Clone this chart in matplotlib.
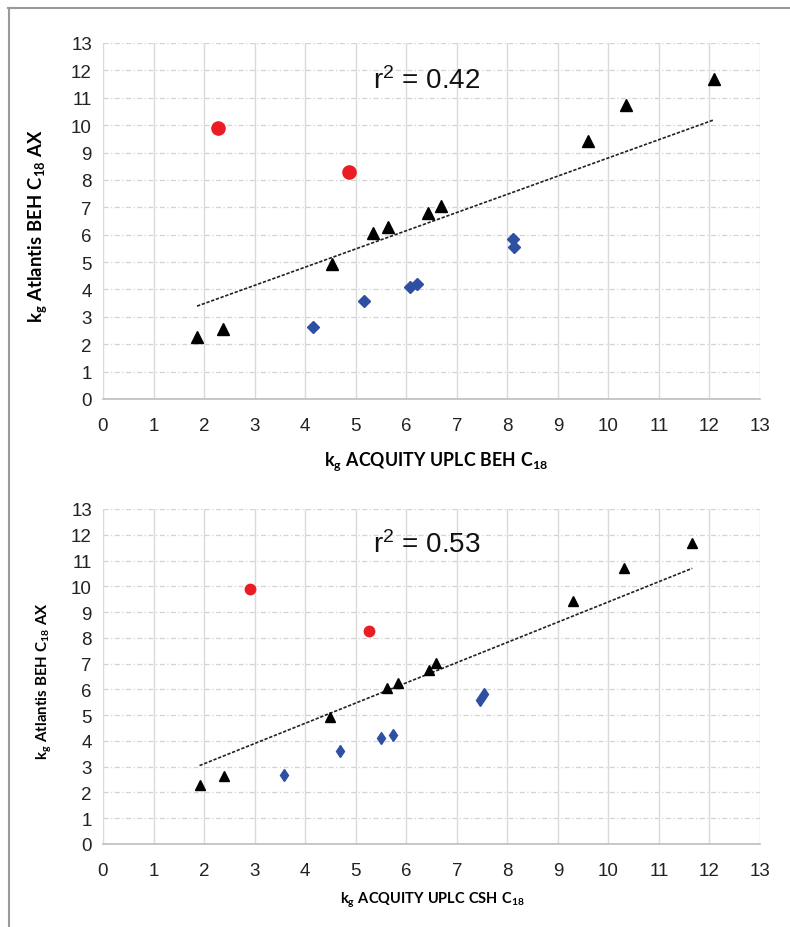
import numpy as np
import matplotlib
matplotlib.use("Agg")
import matplotlib.pyplot as plt
from matplotlib.lines import Line2D

plt.rcParams['font.family'] = ['Liberation Sans', 'DejaVu Sans']
plt.rcParams['mathtext.fontset'] = 'custom'
plt.rcParams['mathtext.rm'] = 'Lato:bold'
plt.rcParams['mathtext.bf'] = 'Lato:bold'
plt.rcParams['mathtext.it'] = 'Lato:bold'

# ---- data: top panel (BEH C18 vs Atlantis) ----
top_tri_x = [1.86, 2.37, 4.53, 5.35, 5.64, 6.43, 6.68, 9.60, 10.34, 12.09]
top_tri_y = [2.26, 2.57, 4.92, 6.07, 6.28, 6.79, 7.05, 9.42, 10.72, 11.69]
top_red_x = [2.28, 4.87]
top_red_y = [9.89, 8.30]
top_blue_x = [4.16, 5.17, 6.08, 6.21, 8.11, 8.13]
top_blue_y = [2.62, 3.59, 4.08, 4.20, 5.86, 5.56]
top_r2 = "0.42"

# ---- data: bottom panel (CSH C18 vs Atlantis) ----
bot_tri_x = [1.91, 2.39, 4.49, 5.62, 5.83, 6.46, 6.59, 9.30, 10.30, 11.66]
bot_tri_y = [2.30, 2.63, 4.94, 6.05, 6.25, 6.77, 7.02, 9.42, 10.71, 11.67]
bot_red_x = [2.90, 5.26]
bot_red_y = [9.88, 8.28]
bot_blue_x = [3.59, 4.69, 5.50, 5.74, 7.46, 7.53]
bot_blue_y = [2.68, 3.61, 4.11, 4.22, 5.60, 5.83]
bot_r2 = "0.53"

ticks = list(range(0, 14))

fig = plt.figure(figsize=(7.9, 9.28), dpi=100)

# outer frame lines (top and left)
fig.add_artist(Line2D([8/790, 1.0], [1-9/928, 1-9/928], color='#9a9a9a', lw=1.5,
                      transform=fig.transFigure))
fig.add_artist(Line2D([9/790, 9/790], [0, 1-9/928], color='#9a9a9a', lw=1.5,
                      transform=fig.transFigure))

RED = '#ec1c24'
BLUE = '#2f4fa2'


def panel(rect, tx, ty, rx, ry, bx, by, r2, big):
    ax = fig.add_axes(rect)
    ax.set_xlim(0, 13)
    ax.set_ylim(0, 13)
    ax.set_xticks(ticks)
    ax.set_yticks(ticks)
    ax.tick_params(length=0, labelsize=13.5, colors='#222222')
    ax.tick_params(axis='y', pad=8)
    ax.tick_params(axis='x', pad=13)
    for s in ['top', 'right', 'left']:
        ax.spines[s].set_visible(False)
    ax.spines['bottom'].set_color('#bdbdbd')
    ax.spines['bottom'].set_linewidth(1.2)
    for t in ticks:
        ax.axvline(t, color='#dadada', lw=1.0, zorder=0)
        ax.axhline(t, color='#d2d2d2', lw=0.9, ls=(0, (4, 2, 1, 2)), zorder=0)
    allx = np.array(tx + rx + bx)
    ally = np.array(ty + ry + by)
    m, c = np.polyfit(allx, ally, 1)
    xs = np.array([allx.min(), allx.max()])
    ax.plot(xs, m * xs + c, color='#222222', lw=1.2, ls=(0, (2, 1)), zorder=2)
    ax.plot(tx, ty, '^', color='black', ms=8.5 if big else 7.5, ls='none', zorder=3)
    ax.plot(rx, ry, 'o', color=RED, ms=9.5 if big else 7.5, ls='none', zorder=3)
    if big:
        ax.plot(bx, by, 'D', color=BLUE, ms=6, ls='none', zorder=3)
    else:
        ax.plot(bx, by, 'd', color=BLUE, ms=6.5, ls='none', zorder=3)
    ax.text(6.4, 11.65, r"r$^{\mathregular{2}}$ = " + r2, ha='center', va='center',
            fontsize=20, color='#111111')
    return ax


panel([103/790, 1-400/928, 657/790, 356/928], top_tri_x, top_tri_y, top_red_x, top_red_y,
      top_blue_x, top_blue_y, top_r2, True)
panel([103/790, 1-845/928, 657/790, 335/928], bot_tri_x, bot_tri_y, bot_red_x, bot_red_y,
      bot_blue_x, bot_blue_y, bot_r2, False)

ylab = r"$\mathbf{k_{g}\ Atlantis\ BEH\ C_{18}\ AX}$"
fig.text(38/790, 1-226/928, ylab, rotation=90, ha='center', va='center', fontsize=13.3)
fig.text(44/790, 1-681/928, ylab, rotation=90, ha='center', va='center', fontsize=10.8)
fig.text(436/790, 1-462/928, r"$\mathbf{k_{g}\ ACQUITY\ UPLC\ BEH\ C_{18}}$",
         ha='center', va='center', fontsize=12.8)
fig.text(432/790, 1-900/928, r"$\mathbf{k_{g}\ ACQUITY\ UPLC\ CSH\ C_{18}}$",
         ha='center', va='center', fontsize=10.5)

fig.savefig('out.png', dpi=100, facecolor='white')
